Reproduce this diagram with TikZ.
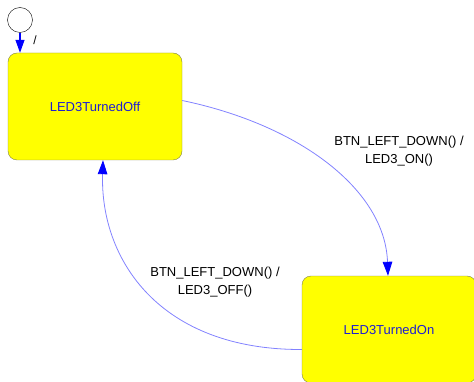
\documentclass[tikz,border=0pt]{standalone}
\usepackage{fontspec}
\setmainfont{Liberation Sans}
\usetikzlibrary{arrows.meta,positioning}

\definecolor{statefill}{RGB}{255,255,0}
\definecolor{stateline}{RGB}{128,128,72}
\definecolor{statetext}{RGB}{30,30,210}
\definecolor{transline}{RGB}{130,130,255}
\definecolor{tiphead}{RGB}{0,0,255}

\begin{document}
\begin{tikzpicture}[
  x=1pt, y=-1pt,
  state/.style={rectangle, rounded corners=9pt, draw=stateline, fill=statefill,
    minimum width=174pt, minimum height=107pt, inner sep=0pt,
    text=statetext, font=\fontsize{13}{18}\selectfont},
  initial/.style={circle, draw, fill=white, minimum size=25pt, inner sep=0pt},
  trans/.style={draw=transline, line width=0.8pt,
    -{Triangle[width=9.5pt,length=14pt,color=tiphead,fill=tiphead]}},
  guard/.style={align=center, font=\fontsize{13}{18}\selectfont}
]
\clip (0,0) rectangle (474,382);

\node[initial] (init) at (20,20) {};
\node[state] (off) at (95,106.5) {LED3TurnedOff};
\node[state] (on) at (389,329.5) {LED3TurnedOn};

\draw[draw=tiphead, line width=1.2pt,
  -{Triangle[width=9pt,length=13pt,fill=tiphead]}] (init) -- (init |- off.north);
\node[font=\fontsize{12}{14}\selectfont] (slash) at (35,40) {/};

% off -> on
\draw[trans] ([yshift=6pt]off.east) .. controls (300,125) and (385,190) .. (on.north -| 388,0);
\node[guard] (lblon) at (399,151) {BTN\_LEFT\_DOWN() /\\LED3\_ON()};

% on -> off
\draw[trans] ([yshift=-20pt]on.west) .. controls (160,350) and (100,260) .. (off.south -| 103,0);
\node[guard] (lbloff) at (215,282) {BTN\_LEFT\_DOWN() /\\LED3\_OFF()};
\end{tikzpicture}
\end{document}
